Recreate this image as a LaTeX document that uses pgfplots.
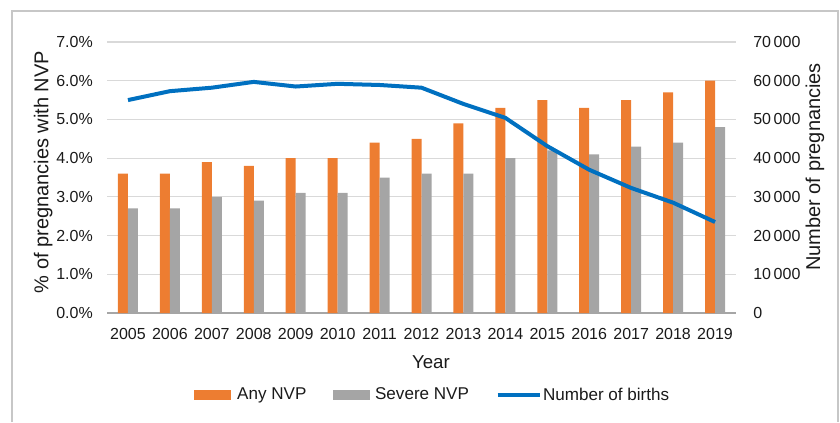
\documentclass[border=0pt]{standalone}
\usepackage{pgfplots}
\pgfplotsset{compat=1.18}
\usepackage{fontspec}
\setmainfont{Liberation Sans}
\definecolor{cOrange}{HTML}{ED7D31}
\definecolor{cGray}{HTML}{A5A5A5}
\definecolor{cBlue}{HTML}{0070C0}
\definecolor{cGrid}{HTML}{D9D9D9}
\definecolor{cText}{HTML}{1A1A1A}
\newcommand{\fs}[1]{\fontsize{#1}{#1}\selectfont}
\begin{document}
\begin{tikzpicture}
\useasboundingbox (0,0) rectangle (630pt,316.5pt);
\draw[color=black!22, line width=1.1pt] (9pt,0) -- (9pt,308.25pt) -- (628.5pt,308.25pt) -- (628.5pt,0);
\begin{axis}[
  at={(80.25pt,81.75pt)}, anchor=south west,
  scale only axis, width=471.75pt, height=203.25pt,
  xmin=-0.5, xmax=14.5, ymin=0, ymax=7,
  enlargelimits=false,
  ybar=0pt, bar width=7.5pt,
  xtick={0,...,14},
  xticklabels={2005,2006,2007,2008,2009,2010,2011,2012,2013,2014,2015,2016,2017,2018,2019},
  ytick={0,...,7},
  yticklabels={0.0\%,1.0\%,2.0\%,3.0\%,4.0\%,5.0\%,6.0\%,7.0\%},
  major tick length=0pt,
  axis x line*=bottom, axis y line*=left,
  x axis line style={draw=black!35, line width=0.9pt, -},
  y axis line style={draw=none},
  ymajorgrids, grid style={cGrid, line width=0.9pt},
  tick label style={font=\fs{12}, text=cText, inner sep=0pt},
  xticklabel shift=11pt, yticklabel shift=10.5pt,
  xlabel={Year}, ylabel={\% of pregnancies with NVP},
  xlabel style={font=\fs{14}, text=cText, at={(axis description cs:0.515,-0.181)}, anchor=center},
  ylabel style={font=\fs{15}, text=cText, at={(axis description cs:-0.1015,0.52)}, anchor=center, rotate=0},
  legend columns=3,
  legend style={draw=none, fill=none, font=\fs{12.8}, text=cText,
    at={(axis description cs:0.517,-0.3026)}, anchor=center,
    /tikz/every even column/.style={column sep=19pt},
    nodes={inner sep=1pt}},
]
\addplot[fill=cOrange, draw=none,
  legend image code/.code={\fill[cOrange] (0pt,-3.4pt) rectangle (27.75pt,3.4pt); \path (31.5pt,0pt);}]
  coordinates {(0,3.6)(1,3.6)(2,3.9)(3,3.8)(4,4.0)(5,4.0)(6,4.4)(7,4.5)(8,4.9)(9,5.3)(10,5.5)(11,5.3)(12,5.5)(13,5.7)(14,6.0)};
\addlegendentry{Any NVP}
\addplot[fill=cGray, draw=none,
  legend image code/.code={\fill[cGray] (0pt,-3.4pt) rectangle (27.75pt,3.4pt); \path (30.5pt,0pt);}]
  coordinates {(0,2.7)(1,2.7)(2,3.0)(3,2.9)(4,3.1)(5,3.1)(6,3.5)(7,3.6)(8,3.6)(9,4.0)(10,4.2)(11,4.1)(12,4.3)(13,4.4)(14,4.8)};
\addlegendentry{Severe NVP}
\addlegendimage{legend image code/.code={\draw[cBlue, line width=3pt] (0pt,0pt) -- (31.5pt,0pt);}}
\addlegendentry{Number of births}
\end{axis}
\begin{axis}[
  at={(80.25pt,81.75pt)}, anchor=south west,
  scale only axis, width=471.75pt, height=203.25pt,
  xmin=-0.5, xmax=14.5, ymin=0, ymax=70000,
  enlargelimits=false, scaled y ticks=false,
  axis x line=none, axis y line*=right,
  y axis line style={draw=none},
  major tick length=0pt,
  ytick={0,10000,20000,30000,40000,50000,60000,70000},
  yticklabels={0,10\,000,20\,000,30\,000,40\,000,50\,000,60\,000,70\,000},
  tick label style={font=\fs{12}, text=cText, inner sep=0pt},
  yticklabel shift=12.75pt,
  ylabel={Number of pregnancies},
  ylabel style={font=\fs{15}, text=cText, at={(axis description cs:1.1256,0.539)}, anchor=center, rotate=0},
]
\addplot[cBlue, line width=3pt, line join=round, mark=none]
  coordinates {(0,55000)(1,57300)(2,58200)(3,59700)(4,58500)(5,59200)(6,58900)(7,58200)(8,54000)(9,50400)(10,43100)(11,37000)(12,32300)(13,28500)(14,23500)};
\end{axis}
\end{tikzpicture}
\end{document}
